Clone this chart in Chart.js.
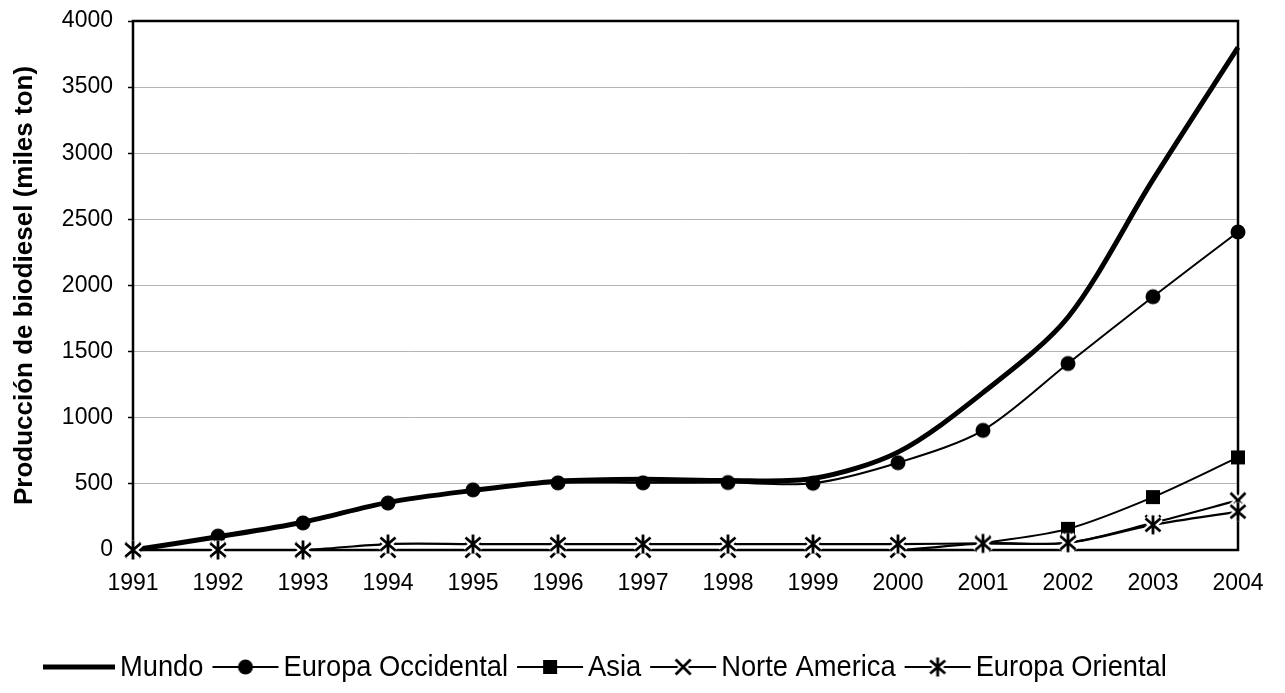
<!DOCTYPE html>
<html>
<head>
<meta charset="utf-8">
<script src="https://cdn.jsdelivr.net/npm/chart.js@4.4.1/dist/chart.umd.min.js"></script>
<style>
  html, body { margin: 0; padding: 0; background: #fff; }
  #wrap { width: 1285px; height: 693px; position: relative; }
</style>
</head>
<body>
<div id="wrap"><canvas id="chart"></canvas></div>
<script>
// Biodiesel production by region, thousand tonnes
const years = ['1991', '1992', '1993', '1994', '1995', '1996', '1997',
               '1998', '1999', '2000', '2001', '2002', '2003', '2004'];
const mundo             = [0, 100, 210, 360, 450, 520, 535, 525, 540, 740, 1190, 1760, 2800, 3800];
const europaOccidental  = [null, 105, 205, 355, 455, 508, 508, 510, 505, 660, 905, 1410, 1915, 2405];
const asia              = [null, null, null, null, null, null, null, null, null, null, 50, 160, 400, 700];
const norteAmerica      = [0, 0, 0, 0, 0, 0, 0, 0, 0, 0, 50, 55, 205, 375];
const europaOriental    = [0, 0, 0, 45, 45, 45, 45, 45, 45, 45, 50, 55, 190, 290];
const yTickValues       = [0, 500, 1000, 1500, 2000, 2500, 3000, 3500, 4000];

const seriesNames = ['Mundo', 'Europa Occidental', 'Asia', 'Norte America', 'Europa Oriental'];

const FONT = '"Liberation Sans", Arial, sans-serif';

// Marker glyphs drawn on small canvases so they can serve as point styles
function markerCanvas(kind) {
  const s = 26, c = document.createElement('canvas');
  c.width = s; c.height = s;
  const g = c.getContext('2d');
  g.translate(s / 2, s / 2);
  g.lineCap = 'butt';
  const strokeShape = (pathFn, width, color) => {
    g.beginPath(); pathFn(); g.lineWidth = width; g.strokeStyle = color; g.stroke();
  };
  if (kind === 'circle') {
    g.beginPath(); g.arc(0, 0, 7.5, 0, Math.PI * 2); g.fillStyle = '#000'; g.fill();
  } else if (kind === 'square') {
    g.fillStyle = '#000'; g.fillRect(-7, -7, 14, 14);
  } else if (kind === 'cross') {
    const p = () => { g.moveTo(-7.5, -7.5); g.lineTo(7.5, 7.5); g.moveTo(7.5, -7.5); g.lineTo(-7.5, 7.5); };
    strokeShape(p, 7, '#fff');
    strokeShape(p, 2.8, '#000');
  } else if (kind === 'asterisk') {
    const p = () => {
      g.moveTo(-7.5, -6.5); g.lineTo(7.5, 6.5); g.moveTo(7.5, -6.5); g.lineTo(-7.5, 6.5);
      g.moveTo(0, -9.5); g.lineTo(0, 9.5);
    };
    strokeShape(p, 7, '#fff');
    strokeShape(p, 2.8, '#000');
  }
  return c;
}

const markers = {
  circle: markerCanvas('circle'),
  square: markerCanvas('square'),
  cross: markerCanvas('cross'),
  asterisk: markerCanvas('asterisk')
};

// Asia joins in 2001 without a marker on that first point
const asiaRadius = (ctx) => {
  const first = asia.findIndex(v => v !== null);
  return ctx.dataIndex === first ? 0 : 7;
};

// Plot frame drawn under the series so marker halos cut through it
const framePlugin = {
  id: 'frame',
  beforeDatasetsDraw(chart) {
    const { ctx, chartArea: a } = chart;
    ctx.save();
    ctx.strokeStyle = '#000';
    ctx.lineWidth = 2.5;
    ctx.strokeRect(a.left, a.top, a.right - a.left, a.bottom - a.top);
    ctx.restore();
  }
};

// Legend row: line sample with marker, followed by the series name
const legendPlugin = {
  id: 'rowLegend',
  afterDraw(chart) {
    const { ctx } = chart;
    const y = 667;
    const fontSize = 30, squeeze = 0.91;
    ctx.save();
    ctx.font = fontSize + 'px ' + FONT;
    ctx.textBaseline = 'middle';
    ctx.fillStyle = '#000';
    let x = 43;
    chart.data.datasets.slice().sort((a, b) => a.legendIndex - b.legendIndex).forEach((ds, i) => {
      const symW = i === 0 ? 72 : 66;
      ctx.beginPath();
      ctx.moveTo(x, y); ctx.lineTo(x + symW, y);
      ctx.lineWidth = i === 0 ? 5 : 2;
      ctx.strokeStyle = '#000';
      ctx.stroke();
      if (ds.legendMarker) {
        const m = ds.legendMarker;
        ctx.drawImage(m, x + symW / 2 - m.width / 2, y - m.height / 2);
      }
      x += symW + 5;
      ctx.save();
      ctx.translate(x, y + 1);
      ctx.scale(squeeze, 1);
      ctx.fillText(ds.label, 0, 0);
      ctx.restore();
      x += ctx.measureText(ds.label).width * squeeze + 9;
    });
    ctx.restore();
  }
};

const lineBase = {
  borderColor: '#000',
  backgroundColor: '#000',
  fill: false,
  tension: 0.3,
  clip: false,
  spanGaps: false,
  pointHoverRadius: 0
};

const chart = new Chart(document.getElementById('chart'), {
  type: 'line',
  data: {
    labels: years,
    datasets: [
      Object.assign({}, lineBase, {
        label: seriesNames[0], data: mundo, borderWidth: 5, pointRadius: 0,
        order: 5, legendIndex: 0, legendMarker: null
      }),
      Object.assign({}, lineBase, {
        label: seriesNames[1], data: europaOccidental, borderWidth: 2,
        pointStyle: markers.circle, pointRadius: 7,
        order: 4, legendIndex: 1, legendMarker: markers.circle
      }),
      Object.assign({}, lineBase, {
        label: seriesNames[2], data: asia, borderWidth: 2,
        pointStyle: markers.square, pointRadius: asiaRadius,
        order: 3, legendIndex: 2, legendMarker: markers.square
      }),
      Object.assign({}, lineBase, {
        label: seriesNames[3], data: norteAmerica, borderWidth: 2.2,
        pointStyle: markers.cross, pointRadius: 7,
        order: 2, legendIndex: 3, legendMarker: markers.cross
      }),
      Object.assign({}, lineBase, {
        label: seriesNames[4], data: europaOriental, borderWidth: 2.2,
        pointStyle: markers.asterisk, pointRadius: 7,
        order: 1, legendIndex: 4, legendMarker: markers.asterisk
      })
    ]
  },
  options: {
    responsive: true,
    maintainAspectRatio: false,
    animation: false,
    events: [],
    layout: { padding: { top: 21, right: 47, bottom: 0, left: 0 } },
    plugins: {
      legend: { display: false },
      tooltip: { enabled: false }
    },
    scales: {
      x: {
        offset: false,
        grid: { display: false },
        border: { display: false },
        ticks: {
          color: '#000',
          font: { family: FONT, size: 23 },
          padding: 12,
          maxRotation: 0,
          autoSkip: false
        },
        afterFit(scale) {
          scale.height = 143;
          scale.paddingLeft = 0; scale.paddingRight = 0;
        }
      },
      y: {
        min: 0,
        max: 4000,
        afterBuildTicks(scale) { scale.ticks = yTickValues.map(v => ({ value: v })); },
        grid: { color: '#b4b4b4', lineWidth: 1, tickLength: 5, tickColor: '#000', tickWidth: 1.5 },
        border: { display: false },
        ticks: {
          color: '#000',
          font: { family: FONT, size: 23 },
          padding: 15,
          callback: (v) => String(v)
        },
        title: {
          display: true,
          text: 'Producción de biodiesel (miles ton)',
          color: '#000',
          font: { family: FONT, size: 26, weight: 'bold' },
          padding: { top: 9, bottom: 0 }
        },
        afterFit(scale) {
          scale.width = 133;
          scale.paddingTop = 0; scale.paddingBottom = 0;
        }
      }
    }
  },
  plugins: [framePlugin, legendPlugin]
});
</script>
</body>
</html>
